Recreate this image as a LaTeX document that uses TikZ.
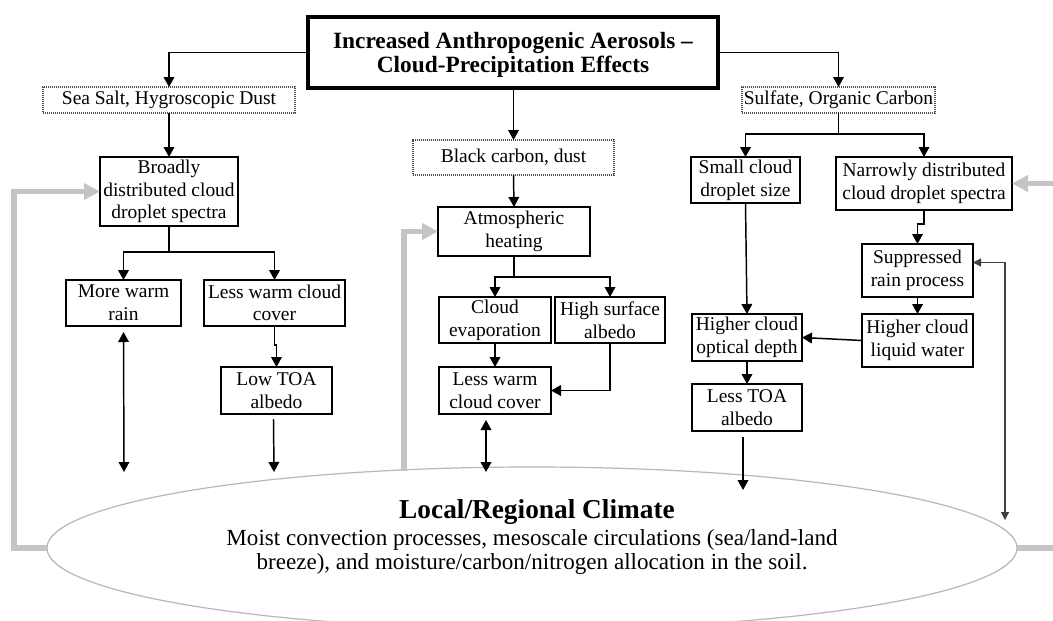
\documentclass[tikz,border=0pt]{standalone}
\usepackage{fontspec}
\setmainfont{Liberation Serif}
\usetikzlibrary{arrows.meta,shapes.geometric,calc}

\begin{document}
\begin{tikzpicture}[x=0.75pt,y=-0.75pt,
  every node/.style={inner sep=0pt, outer sep=0pt},
  rect/.style n args={4}{minimum width={(#3-#1)*0.75pt}, minimum height={(#4-#2)*0.75pt},
    at={({(#1+#3)/2},{(#2+#4)/2})}},
  bodyfont/.style={font=\fontsize{14.6}{17}\selectfont},
  box/.style={draw, line width=1.2pt, align=center, bodyfont},
  dotbox/.style={draw=black!70, line width=0.9pt, dash pattern=on 0.8pt off 0.7pt, align=center, bodyfont},
  titlebox/.style={draw, line width=3pt},
  arr/.style={line width=1.1pt, -{Triangle[length=7.5pt,width=8pt]}},
  darr/.style={line width=1.1pt, {Triangle[length=7.5pt,width=8pt]}-{Triangle[length=7.5pt,width=8pt]}},
  gline/.style={line width=3.8pt, draw=black!23},
  garr/.style={gline, -{Triangle[length=12pt,width=12pt,fill=black!23]}},
  dline/.style={draw=black!75, line width=0.9pt,
    {Triangle[length=6pt,width=6pt]}-{Triangle[length=6pt,width=6pt]}}
]
\clip (0,0) rectangle (1053,621);
\fill[white] (0,0) rectangle (1053,621);

% climate ellipse and its text
\node[draw=black!28, line width=0.9pt, ellipse, minimum width=727.5pt, minimum height=121.5pt] (clim) at (532,548) {};
\node[font=\bfseries\fontsize{20.5}{24}\selectfont] (climhead) at (537,512) {Local/Regional Climate};
\node[align=center, font=\fontsize{17.3}{17.5}\selectfont] (climbody) at (532,552)
  {Moist convection processes, mesoscale circulations (sea/land-land\\
   breeze), and moisture/carbon/nitrogen allocation in the soil.};

% top box
\node[titlebox, rect={308}{17}{718}{88}] (title) {};
\node[align=center, font=\bfseries\fontsize{17.5}{18}\selectfont] (titletext) at (513,55)
  {Increased Anthropogenic Aerosols --\\Cloud-Precipitation Effects};

% aerosol types
\node[dotbox, rect={43}{87}{295}{113}] (sea) {Sea Salt, Hygroscopic Dust};
\node[dotbox, rect={413}{140}{614}{175}] (black) {Black carbon, dust};
\node[dotbox, rect={742}{87}{935}{113}] (sulf) {Sulfate, Organic Carbon};

% left column
\node[box, rect={100}{157}{238}{226}] (broad) {Broadly\\distributed cloud\\droplet spectra};
\node[box, rect={66}{280}{181}{326}] (rain) {More warm\\rain};
\node[box, rect={204}{280}{345}{326}] (lwc1) {Less warm cloud\\cover};
\node[box, rect={221}{367}{332}{414}] (toa1) {Low TOA\\albedo};

% middle column
\node[box, rect={438}{207}{590}{256}] (atm) {Atmospheric\\heating};
\node[box, rect={439}{297}{551}{343}] (evap) {Cloud\\evaporation};
\node[box, rect={555}{297}{665}{343}] (high) {High surface\\albedo};
\node[box, rect={439}{367}{551}{414}] (lwc2) {Less warm\\cloud cover};

% right column
\node[box, rect={691}{157}{800}{203}] (small) {Small cloud\\droplet size};
\node[box, rect={836}{157}{1012}{210}] (narrow) {Narrowly distributed\\cloud droplet spectra};
\node[box, rect={862}{244}{973}{297}] (supp) {Suppressed\\rain process};
\node[box, rect={862}{314}{973}{367}] (lwat) {Higher cloud\\liquid water};
\node[box, rect={692}{314}{802}{361}] (od) {Higher cloud\\optical depth};
\node[box, rect={692}{384}{802}{431}] (toa2) {Less TOA\\albedo};

% feedback paths back from the climate
\coordinate (gmid) at (404,471);
\draw[garr] (clim.west) -- (clim.west -| 14,0) |- (broad.west);
\draw[garr] (gmid) |- (atm.west);
\draw[garr] (clim.east) -- (clim.east -| 1075,0) |- (narrow.east);

% free ends above the ellipse
\coordinate (e1) at (124,472);
\coordinate (e2) at (274,472);
\coordinate (e3) at (486,472);
\coordinate (e4) at (743,490);
\coordinate (e5) at (1005,520);

% title to aerosol types
\draw[arr] (title.west) -| (sea.north);
\draw[arr] (title.south -| black.north) -- (black.north);
\draw[arr] (title.east) -| (sulf.north);

% left chain
\draw[arr] (sea.south) -- (broad.north);
\draw[arr] (broad.south) -- (broad.south |- 0,252) -| (rain.north);
\draw[arr] (broad.south) -- (broad.south |- 0,252) -| (lwc1.north);
\draw[arr] (lwc1.south) -- ++(0,19) -| (toa1.north);
\draw[darr] ($(rain.south)+(0,6)$) -- (e1);
\draw[arr] ($(toa1.south)+(-3,5)$) -- (e2);

% middle chain
\draw[arr] (black.south) -- (atm.north);
\draw[arr] (atm.south) -- (atm.south |- 0,277) -| (evap.north);
\draw[arr] (atm.south) -- (atm.south |- 0,277) -| (high.north);
\draw[arr] (evap.south) -- (lwc2.north);
\draw[arr] (high.south) |- (lwc2.east);
\draw[darr] ($(lwc2.south)+(-9,6)$) -- (e3);

% right chain
\draw[arr] (sulf.south) -- (sulf.south |- 0,134) -| (small.north);
\draw[arr] (sulf.south) -- (sulf.south |- 0,134) -| (narrow.north);
\draw[arr] (small.south) -- (od.north);
\draw[arr] (narrow.south) -- ++(0,14) -| (supp.north);
\draw[arr] (supp.south) -- (lwat.north);
\draw[arr] (lwat.west) -- (od.east);
\draw[arr] (od.south) -- (toa2.north);
\draw[arr] ($(toa2.south)+(-4,6)$) -- (e4);
\draw[dline] ($(supp.east)+(0,-8)$) -| (e5);
\end{tikzpicture}
\end{document}
